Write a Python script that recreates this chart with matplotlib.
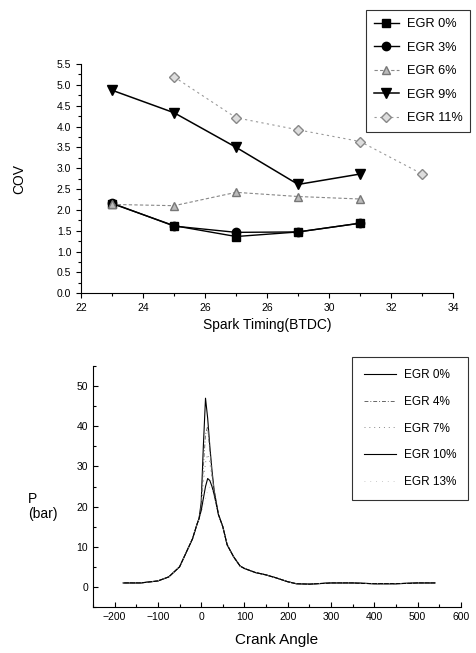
import matplotlib
matplotlib.use("Agg")
import matplotlib.pyplot as plt
from matplotlib.ticker import MultipleLocator, FixedLocator, FormatStrFormatter

plt.rcParams['font.family'] = ['Liberation Sans', 'DejaVu Sans']

# ---- top chart: COV vs spark timing ----
spark = [23, 25, 27, 29, 31]
spark_11 = [25, 27, 29, 31, 33]
cov_egr0 = [2.15, 1.62, 1.36, 1.47, 1.68]
cov_egr3 = [2.16, 1.61, 1.46, 1.47, 1.68]
cov_egr6 = [2.13, 2.10, 2.42, 2.32, 2.26]
cov_egr9 = [4.87, 4.33, 3.50, 2.61, 2.86]
cov_egr11 = [5.19, 4.21, 3.92, 3.64, 2.86]
spark_ticks = [22, 24, 26, 28, 30, 32, 34]
spark_ticklabels = ["22", "24", "26", "26", "30", "32", "34"]

# ---- bottom chart: cylinder pressure vs crank angle ----
crank = [-180, -140, -100, -75, -50, -35, -20, -10, -5, 0, 5, 10, 15, 20, 25, 30,
         40, 50, 60, 75, 90, 100, 125, 150, 175, 200, 220, 250, 300, 350, 400, 450, 500, 540]
p_egr0 = [1.0, 1.0, 1.5, 2.5, 5.0, 8.5, 12.0, 15.5, 17.0, 21.0, 35.0, 47.0, 42.0, 35.0, 29.0, 24.0,
          18.0, 15.0, 10.5, 7.5, 5.2, 4.6, 3.6, 3.0, 2.2, 1.3, 0.8, 0.7, 1.0, 1.0, 0.8, 0.8, 1.0, 1.0]
p_egr4 = [1.0, 1.0, 1.5, 2.5, 5.0, 8.5, 12.0, 15.5, 17.0, 20.0, 30.0, 38.0, 40.0, 34.0, 28.0, 24.0,
          18.0, 15.0, 10.5, 7.5, 5.2, 4.6, 3.6, 3.0, 2.2, 1.3, 0.8, 0.7, 1.0, 1.0, 0.8, 0.8, 1.0, 1.0]
p_egr7 = [1.0, 1.0, 1.5, 2.5, 5.0, 8.5, 12.0, 15.5, 17.0, 19.0, 26.0, 31.0, 33.0, 31.0, 27.0, 23.5,
          18.0, 15.0, 10.5, 7.5, 5.2, 4.6, 3.6, 3.0, 2.2, 1.3, 0.8, 0.7, 1.0, 1.0, 0.8, 0.8, 1.0, 1.0]
p_egr10 = [1.0, 1.0, 1.5, 2.5, 5.0, 8.5, 12.0, 15.5, 17.0, 19.0, 22.0, 25.0, 27.0, 26.5, 25.0, 23.0,
           18.0, 15.0, 10.5, 7.5, 5.2, 4.6, 3.6, 3.0, 2.2, 1.3, 0.8, 0.7, 1.0, 1.0, 0.8, 0.8, 1.0, 1.0]
p_egr13 = [1.0, 1.0, 1.5, 2.5, 5.0, 8.5, 12.0, 15.5, 17.0, 18.5, 20.0, 22.0, 24.0, 25.0, 24.5, 22.5,
           18.0, 15.0, 10.5, 7.5, 5.2, 4.6, 3.6, 3.0, 2.2, 1.3, 0.8, 0.7, 1.0, 1.0, 0.8, 0.8, 1.0, 1.0]

fig = plt.figure(figsize=(4.77, 6.53), dpi=100)

# top axes
ax1 = fig.add_axes([0.170, 0.551, 0.780, 0.351])
ax1.plot(spark, cov_egr0, color="black", lw=1.0, marker="s", ms=6, label="EGR 0%")
ax1.plot(spark, cov_egr3, color="black", lw=1.0, marker="o", ms=6, label="EGR 3%")
ax1.plot(spark, cov_egr6, color="#888888", lw=0.8, ls=(0, (3, 2)), marker="^", ms=6,
         mfc="#bbbbbb", mec="#777777", label="EGR 6%")
ax1.plot(spark, cov_egr9, color="black", lw=1.1, marker="v", ms=7, label="EGR 9%")
ax1.plot(spark_11, cov_egr11, color="#999999", lw=0.8, ls=(0, (2, 3)), marker="D", ms=5,
         mfc="#dddddd", mec="#888888", label="EGR 11%")
ax1.set_xlim(22, 34)
ax1.set_ylim(0, 5.5)
ax1.xaxis.set_major_locator(FixedLocator(spark_ticks))
ax1.set_xticklabels(spark_ticklabels)
ax1.xaxis.set_minor_locator(MultipleLocator(1))
ax1.yaxis.set_major_locator(MultipleLocator(0.5))
ax1.yaxis.set_minor_locator(MultipleLocator(0.25))
ax1.yaxis.set_major_formatter(FormatStrFormatter("%.1f"))
ax1.spines["top"].set_visible(False)
ax1.spines["right"].set_visible(False)
ax1.tick_params(which="both", direction="out", labelsize=7.5, width=0.8)
ax1.tick_params(which="major", length=3.5)
ax1.tick_params(which="minor", length=2)
ax1.set_ylabel("COV", fontsize=10, labelpad=22)
ax1.set_xlabel("Spark Timing(BTDC)", fontsize=10, labelpad=4)
leg1 = ax1.legend(loc="upper left", bbox_to_anchor=(0.762, 0.988), bbox_transform=fig.transFigure,
                  fontsize=9.2, frameon=True, fancybox=False, handlelength=2.0,
                  labelspacing=0.9, borderpad=0.6, handletextpad=0.6, borderaxespad=0.2)
leg1.get_frame().set_edgecolor("black")
leg1.get_frame().set_linewidth(0.8)

# bottom axes
ax2 = fig.add_axes([0.195, 0.0704, 0.771, 0.369])
ax2.plot(crank, p_egr0, color="black", lw=0.8, label="EGR 0%")
ax2.plot(crank, p_egr4, color="#666666", lw=0.7, ls=(0, (4, 2, 1, 2)), label="EGR 4%")
ax2.plot(crank, p_egr7, color="#888888", lw=0.7, ls=(0, (1, 4)), label="EGR 7%")
ax2.plot(crank, p_egr10, color="black", lw=0.8, label="EGR 10%")
ax2.plot(crank, p_egr13, color="#bbbbbb", lw=0.6, ls=(0, (1, 6)), label="EGR 13%")
ax2.set_xlim(-250, 600)
ax2.set_ylim(-5, 55)
ax2.xaxis.set_major_locator(MultipleLocator(100))
ax2.xaxis.set_minor_locator(MultipleLocator(50))
ax2.yaxis.set_major_locator(MultipleLocator(10))
ax2.yaxis.set_minor_locator(MultipleLocator(5))
ax2.spines["top"].set_visible(False)
ax2.spines["right"].set_visible(False)
ax2.tick_params(which="both", direction="in", labelsize=7.5, width=0.8)
ax2.tick_params(which="major", length=3.5)
ax2.tick_params(which="minor", length=2)
ax2.set_xlabel("Crank Angle", fontsize=11, labelpad=8)
fig.text(0.058, 0.225, "P\n(bar)", fontsize=10, ha="left", va="center", linespacing=1.1)
leg2 = ax2.legend(loc="upper left", bbox_to_anchor=(0.726, 0.462), bbox_transform=fig.transFigure,
                  fontsize=8.5, frameon=True, fancybox=False, handlelength=2.7,
                  labelspacing=1.25, borderpad=1.0, handletextpad=0.7)
leg2.get_frame().set_edgecolor("black")
leg2.get_frame().set_linewidth(0.8)

fig.savefig("out.png", dpi=100)
